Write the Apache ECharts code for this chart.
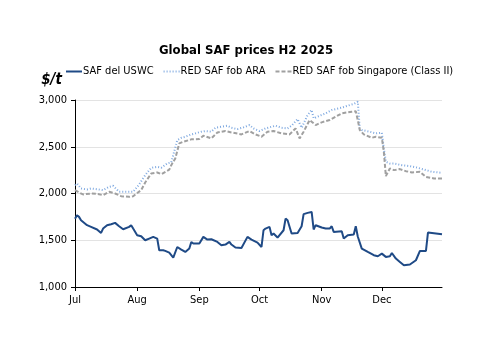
<!DOCTYPE html>
<html>
<head>
<meta charset="utf-8">
<script src="https://cdn.jsdelivr.net/npm/echarts@6/dist/echarts.min.js"></script>
<style>
  html, body { margin: 0; padding: 0; background: #fff; }
  #chart { width: 500px; height: 354px; }
</style>
</head>
<body>
<div id="chart"></div>
<script>
const monthLabels = ['Jan', 'Feb', 'Mar', 'Apr', 'May', 'Jun', 'Jul', 'Aug', 'Sep', 'Oct', 'Nov', 'Dec'];
const seriesNames = ['SAF del USWC', 'RED SAF fob ARA', 'RED SAF fob Singapore (Class II)'];

// SAF del USWC ($/t)
const uswcDates = [
  '07-01', '07-02', '07-03', '07-04', '07-07', '07-09', '07-12', '07-14', '07-15', '07-17',
  '07-19', '07-21', '07-23', '07-25', '07-28', '07-29', '07-30', '08-01', '08-03', '08-05',
  '08-07', '08-09', '08-11', '08-12', '08-14', '08-15', '08-17', '08-19', '08-21', '08-23',
  '08-25', '08-27', '08-28', '08-29', '09-01', '09-03', '09-05', '09-07', '09-10', '09-12',
  '09-14', '09-16', '09-17', '09-19', '09-22', '09-25', '09-27', '09-30', '10-02', '10-03',
  '10-04', '10-06', '10-07', '10-08', '10-10', '10-13', '10-14', '10-15', '10-17', '10-20',
  '10-22', '10-23', '10-25', '10-27', '10-28', '10-29', '11-01', '11-03', '11-05', '11-06',
  '11-07', '11-11', '11-12', '11-14', '11-17', '11-18', '11-19', '11-21', '11-24', '11-27',
  '11-29', '12-01', '12-03', '12-05', '12-06', '12-08', '12-10', '12-12', '12-15', '12-18',
  '12-20', '12-23', '12-24', '12-31'
];
const uswcValues = [
  1730, 1768, 1750, 1714, 1661, 1643, 1615, 1578, 1625, 1661,
  1671, 1686, 1650, 1618, 1643, 1661, 1625, 1554, 1543, 1500,
  1518, 1536, 1518, 1393, 1393, 1386, 1368, 1315, 1428, 1400,
  1375, 1411, 1482, 1465, 1465, 1536, 1507, 1511, 1482, 1447,
  1454, 1482, 1454, 1422, 1418, 1536, 1507, 1475, 1428, 1607,
  1625, 1643, 1554, 1572, 1529, 1607, 1732, 1714, 1572, 1578,
  1650, 1779, 1793, 1803, 1615, 1661, 1636, 1625, 1625, 1650,
  1589, 1596, 1518, 1554, 1561, 1650, 1540, 1411, 1375, 1340,
  1329, 1357, 1322, 1329, 1364, 1304, 1268, 1232, 1240, 1286,
  1386, 1386, 1582, 1564
];

// RED SAF fob ARA ($/t)
const araDates = [
  '07-01', '07-02', '07-04', '07-07', '07-09', '07-12', '07-15', '07-18', '07-20', '07-23',
  '07-26', '07-30', '08-02', '08-05', '08-08', '08-11', '08-13', '08-16', '08-18', '08-19',
  '08-21', '08-23', '08-25', '08-28', '08-30', '09-02', '09-04', '09-07', '09-09', '09-12',
  '09-15', '09-17', '09-20', '09-23', '09-26', '09-28', '10-01', '10-04', '10-07', '10-09',
  '10-12', '10-15', '10-17', '10-20', '10-22', '10-25', '10-27', '10-28', '10-31', '11-03',
  '11-06', '11-11', '11-15', '11-17', '11-19', '11-20', '11-21', '11-25', '11-28', '12-01',
  '12-02', '12-03', '12-05', '12-07', '12-11', '12-15', '12-19', '12-23', '12-26', '12-31'
];
const araValues = [
  2089, 2107, 2054, 2043, 2054, 2046, 2036, 2071, 2082, 2018,
  2018, 2018, 2097, 2196, 2275, 2285, 2275, 2322, 2332, 2411,
  2571, 2596, 2607, 2632, 2643, 2661, 2668, 2661, 2703, 2714,
  2725, 2703, 2689, 2707, 2732, 2696, 2668, 2696, 2714, 2725,
  2703, 2696, 2725, 2796, 2703, 2839, 2893, 2804, 2832, 2857,
  2893, 2918, 2946, 2957, 2982, 2696, 2679, 2661, 2643, 2650,
  2482, 2339, 2321, 2321, 2303, 2293, 2275, 2250, 2232, 2221
];

// RED SAF fob Singapore (Class II) ($/t)
const sgDates = [
  '07-01', '07-03', '07-05', '07-09', '07-12', '07-15', '07-18', '07-21', '07-24', '07-28',
  '07-30', '08-03', '08-05', '08-08', '08-11', '08-13', '08-17', '08-18', '08-20', '08-22',
  '08-24', '08-28', '09-01', '09-03', '09-07', '09-10', '09-14', '09-17', '09-22', '09-26',
  '09-29', '10-02', '10-05', '10-08', '10-12', '10-16', '10-19', '10-21', '10-23', '10-26',
  '10-27', '10-29', '11-01', '11-05', '11-08', '11-11', '11-16', '11-18', '11-19', '11-20',
  '11-22', '11-26', '11-28', '12-01', '12-02', '12-03', '12-05', '12-07', '12-10', '12-13',
  '12-16', '12-20', '12-23', '12-27', '12-31'
];
const sgValues = [
  2036, 2011, 1990, 2000, 1996, 1982, 2018, 2000, 1971, 1964,
  1971, 2036, 2118, 2214, 2225, 2207, 2255, 2303, 2375, 2536,
  2553, 2579, 2582, 2618, 2589, 2653, 2668, 2653, 2632, 2668,
  2632, 2607, 2661, 2668, 2643, 2632, 2696, 2589, 2661, 2786,
  2768, 2732, 2761, 2786, 2821, 2857, 2875, 2880, 2786, 2679,
  2632, 2596, 2607, 2596, 2446, 2186, 2268, 2250, 2261, 2239,
  2225, 2232, 2178, 2161, 2161
];

const yTicks = [1000, 1500, 2000, 2500, 3000];

function pairs(dates, values) {
  return dates.map((d, i) => ['2025-' + d, values[i]]);
}

const fontFamily = '"DejaVu Sans Condensed", "DejaVu Sans", sans-serif';
const chart = echarts.init(document.getElementById('chart'));

chart.setOption({
  animation: false,
  backgroundColor: '#ffffff',
  textStyle: { fontFamily: fontFamily },
  title: {
    text: 'Global SAF prices H2 2025',
    left: 154,
    top: 39,
    textStyle: { fontSize: 13, fontWeight: 'bold', color: '#000', fontFamily: fontFamily },
  },
  legend: {
    top: 61,
    left: 60,
    itemWidth: 16,
    itemHeight: 8,
    itemGap: 9,
    itemStyle: { opacity: 0 },
    textStyle: { fontSize: 11, color: '#000', fontFamily: fontFamily, padding: [0, 0, 0, -4] },
    data: seriesNames,
  },
  grid: { left: 75, right: 58, top: 100, bottom: 67 },
  xAxis: {
    type: 'time',
    min: '2025-07-01',
    max: '2025-12-31',
    minInterval: 28 * 86400000,
    maxInterval: 31 * 86400000,
    axisLine: { lineStyle: { color: '#000', width: 1 } },
    axisTick: { show: true, length: 4, lineStyle: { color: '#000' } },
    splitLine: { show: false },
    axisLabel: {
      color: '#000',
      fontSize: 11,
      fontFamily: fontFamily,
      showMaxLabel: false,
      formatter: (v) => monthLabels[new Date(v).getMonth()],
    },
  },
  yAxis: {
    type: 'value',
    min: yTicks[0],
    max: yTicks[yTicks.length - 1],
    interval: 500,
    name: '$/t',
    nameLocation: 'end',
    nameGap: 12,
    nameTextStyle: {
      fontSize: 15,
      fontWeight: 'bold',
      fontStyle: 'italic',
      color: '#000',
      fontFamily: fontFamily,
      align: 'right',
      padding: [0, 13, 0, 0],
    },
    axisLine: { show: true, lineStyle: { color: '#000', width: 1 } },
    axisTick: { show: true, length: 4, lineStyle: { color: '#000' } },
    splitLine: { lineStyle: { color: '#e3e3e3', width: 1 } },
    axisLabel: {
      color: '#000',
      fontSize: 11,
      fontFamily: fontFamily,
      formatter: (v) => v.toLocaleString('en-US'),
    },
  },
  series: [
    {
      name: seriesNames[0],
      type: 'line',
      data: pairs(uswcDates, uswcValues),
      symbol: 'none',
      z: 3,
      lineStyle: { color: '#1f4a86', width: 2 },
      itemStyle: { color: '#1f4a86' },
    },
    {
      name: seriesNames[1],
      type: 'line',
      data: pairs(araDates, araValues),
      symbol: 'none',
      lineStyle: { color: '#7fa9e0', width: 2, type: [1, 2] },
      itemStyle: { color: '#7fa9e0' },
    },
    {
      name: seriesNames[2],
      type: 'line',
      data: pairs(sgDates, sgValues),
      symbol: 'none',
      lineStyle: { color: '#a0a0a0', width: 2, type: [4, 2] },
      itemStyle: { color: '#a0a0a0' },
    },
  ],
});
</script>
</body>
</html>
